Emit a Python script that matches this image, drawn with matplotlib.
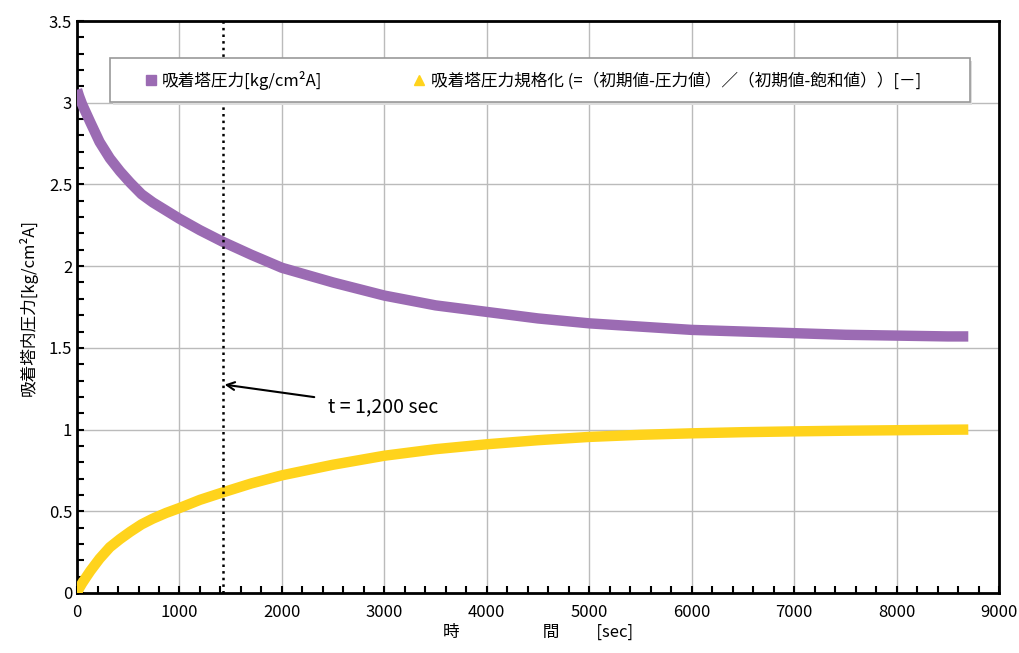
import matplotlib
matplotlib.use('Agg')
import matplotlib.pyplot as plt
import matplotlib.patches as mpatches
from matplotlib.lines import Line2D
from matplotlib.ticker import MultipleLocator

plt.rcParams['font.family'] = ['Noto Sans CJK JP', 'DejaVu Sans']

# time [sec] and values
t_sec = [0, 20, 50, 90, 130, 220, 320, 420, 520, 630, 740, 870, 1000, 1200, 1420,
         1700, 2000, 2500, 3000, 3500, 4000, 4500, 5000, 5500, 6000, 6500, 7000,
         7500, 8000, 8500, 8700]
pressure = [3.08, 3.04, 2.99, 2.935, 2.88, 2.76, 2.66, 2.58, 2.51, 2.44, 2.39, 2.34,
            2.29, 2.22, 2.15, 2.07, 1.99, 1.90, 1.82, 1.76, 1.72, 1.68, 1.65, 1.63,
            1.61, 1.60, 1.59, 1.58, 1.575, 1.57, 1.57]
normalized = [0.0, 0.028, 0.06, 0.098, 0.135, 0.21, 0.28, 0.33, 0.375, 0.42, 0.455,
              0.49, 0.52, 0.57, 0.615, 0.67, 0.72, 0.785, 0.84, 0.88, 0.91, 0.935,
              0.955, 0.968, 0.977, 0.984, 0.989, 0.993, 0.996, 0.999, 1.0]
marker_t = 1420

x_ticks = [0, 1000, 2000, 3000, 4000, 5000, 6000, 7000, 8000, 9000]
y_ticks = [0, 0.5, 1, 1.5, 2, 2.5, 3, 3.5]
y_tick_labels = ['0', '0.5', '1', '1.5', '2', '2.5', '3', '3.5']

purple = '#9B6BB3'
yellow = '#FFD31C'

fig = plt.figure(figsize=(10.19, 6.53), dpi=100)
ax = fig.add_axes([0.0756, 0.0919, 0.9048, 0.8759])

ax.plot(t_sec, pressure, color=purple, lw=7.5, solid_capstyle='butt',
        solid_joinstyle='round', zorder=3)
ax.plot(t_sec, normalized, color=yellow, lw=7.5, solid_capstyle='butt',
        solid_joinstyle='round', zorder=3)

ax.axvline(marker_t, color='black', ls=':', lw=1.8, zorder=4)

ax.set_xlim(0, 9000)
ax.set_ylim(0, 3.5)
ax.set_xticks(x_ticks)
ax.set_yticks(y_ticks)
ax.set_yticklabels(y_tick_labels)
ax.xaxis.set_minor_locator(MultipleLocator(200))
ax.yaxis.set_minor_locator(MultipleLocator(0.1))
ax.tick_params(which='both', direction='in', length=5, width=1.5, colors='black',
               labelsize=12)
ax.tick_params(axis='x', pad=8)
ax.grid(True, which='major', color='#BBBBBB', lw=1.0, zorder=0)
ax.set_axisbelow(True)
for s in ax.spines.values():
    s.set_linewidth(2)
    s.set_color('black')

ax.set_ylabel('吸着塔内圧力[kg/cm²A]', fontsize=12, labelpad=8)
ax.set_xlabel('時　　　　　間　　 [sec]', fontsize=12, labelpad=2)

# arrow + label
ax.annotate('t = 1,200 sec', xy=(marker_t + 20, 1.275), xytext=(2450, 1.14),
            fontsize=14, va='center', ha='left',
            arrowprops=dict(arrowstyle='->', color='black', lw=1.5,
                            shrinkA=8, shrinkB=0))

# legend frame
x0, y0, w, h = 0.036, 0.858, 0.932, 0.077
ax.add_patch(mpatches.Rectangle((x0 + 0.003, y0 - 0.005), w, h, transform=ax.transAxes,
                                facecolor='#DDDDDD', edgecolor='none', zorder=5))
ax.add_patch(mpatches.Rectangle((x0, y0), w, h, transform=ax.transAxes,
                                facecolor='white', edgecolor='#999999', lw=1.2, zorder=6))
handles = [Line2D([], [], ls='none', marker='s', ms=7, color=purple),
           Line2D([], [], ls='none', marker='^', ms=7, color=yellow)]
labels = ['吸着塔圧力[kg/cm²A]',
          '吸着塔圧力規格化 (=（初期値-圧力値）／（初期値-飽和値））[－]']
leg = ax.legend(handles, labels, loc='center left', bbox_to_anchor=(0.058, y0 + h / 2),
                ncol=2, frameon=False, fontsize=12, handlelength=0.6,
                handletextpad=0.4, columnspacing=5.5)
leg.set_zorder(7)

fig.savefig('out.png', dpi=100)
plt.close()
